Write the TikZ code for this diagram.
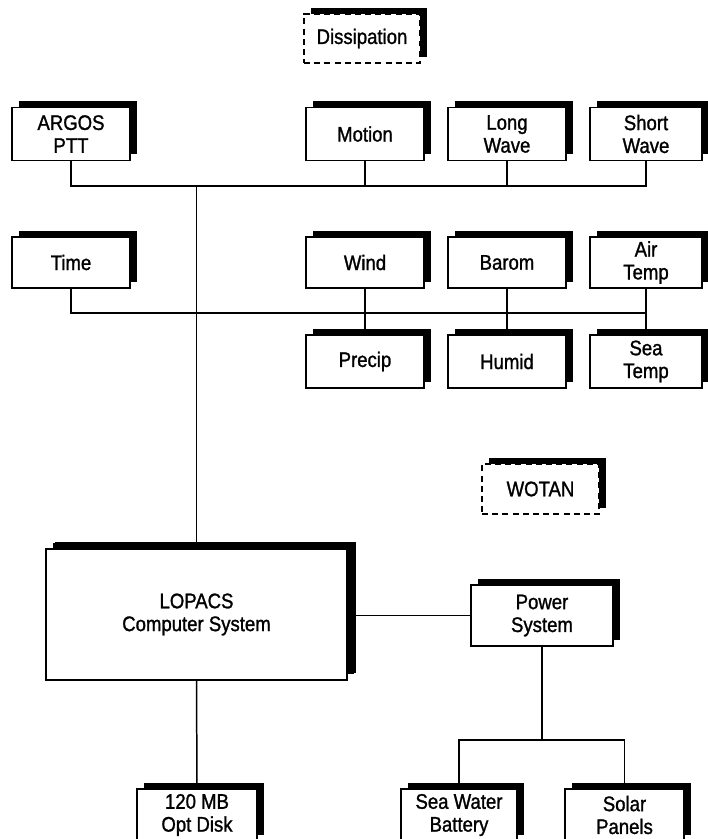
\documentclass[tikz,border=0pt]{standalone}
\usepackage{fontspec}
\setmainfont{Liberation Sans}[FakeStretch=0.88, FakeBold=1.2]
\usetikzlibrary{shadows}

\tikzset{
  unit/.style={draw, line width=1pt, fill=white, align=center, inner sep=0pt,
    font=\fontsize{12}{13}\selectfont,
    minimum width=2.36cm, minimum height=1.06cm,
    general shadow={shadow xshift=0.13cm, shadow yshift=0.12cm, fill=black}},
  bigunit/.style={unit, general shadow={shadow xshift=0.17cm, shadow yshift=0.14cm, fill=black}},
  virtual/.style={unit, dash pattern=on 3.4pt off 2.4pt},
  link/.style={line width=0.85pt}
}

\begin{document}
\begin{tikzpicture}
    \useasboundingbox (0,0) rectangle (14.14,-16.78);

    % dissipation and sensors
    \node[virtual, minimum width=2.32cm, minimum height=0.98cm] (diss) at (7.24,-0.77) {Dissipation};

    \node[unit] (argos)  at (1.42,-2.68)  {ARGOS\\PTT};
    \node[unit] (motion) at (7.30,-2.68)  {Motion};
    \node[unit] (longw)  at (10.14,-2.68) {Long\\Wave};
    \node[unit, minimum width=2.24cm] (shortw) at (12.92,-2.68) {Short\\Wave};

    \node[unit, minimum height=1.02cm] (time)  at (1.42,-5.25)  {Time};
    \node[unit, minimum height=1.02cm] (wind)  at (7.30,-5.25)  {Wind};
    \node[unit, minimum height=1.02cm] (barom) at (10.14,-5.25) {Barom};
    \node[unit, minimum height=1.02cm, minimum width=2.24cm] (airt) at (12.92,-5.25) {Air\\Temp};

    \node[unit] (precip) at (7.30,-7.23)  {Precip};
    \node[unit] (humid)  at (10.14,-7.23) {Humid};
    \node[unit, minimum width=2.24cm] (seat) at (12.92,-7.23) {Sea\\Temp};

    % wotan
    \node[virtual, minimum width=2.34cm, minimum height=1.0cm] (wotan) at (10.81,-9.78) {WOTAN};

    % computer and power
    \node[bigunit, minimum width=6.02cm, minimum height=2.62cm] (lopacs) at (3.93,-12.29) {LOPACS\\Computer System};
    \node[unit, minimum width=2.84cm, minimum height=1.22cm] (power) at (10.84,-12.31) {Power\\System};

    \node[unit, minimum width=2.40cm, minimum height=1.04cm] (optdisk) at (3.94,-16.30) {120 MB\\Opt Disk};
    \node[unit, minimum width=2.32cm, minimum height=1.04cm] (battery) at (9.18,-16.30) {Sea Water\\Battery};
    \node[unit, minimum width=2.38cm, minimum height=1.04cm] (solar) at (12.49,-16.30) {Solar\\Panels};

    % buses
    \coordinate (bus1) at (0,-3.72);
    \coordinate (bus2) at (0,-6.26);
    \coordinate (bus3) at (0,-14.80);

    \draw[link] (argos.south) |- (bus1 -| shortw.south) -- (shortw.south);
    \draw[link] (motion.south) -- (motion.south |- bus1);
    \draw[link] (longw.south) -- (longw.south |- bus1);
    \draw[link] (lopacs.north) -- (lopacs.north |- bus1);

    \draw[link] (time.south) |- (bus2 -| airt.south);
    \foreach \a/\b in {wind/precip, barom/humid, airt/seat}
        \draw[link] (\a.south) -- (\b.north);

    \draw[link] (power.west) -- (power.west -| lopacs.east);
    \draw[link] (lopacs.south) -- (optdisk.north);
    \draw[link] (power.south) -- (power.south |- bus3);
    \draw[link] (battery.north) |- (bus3 -| solar.north) -- (solar.north);
\end{tikzpicture}
\end{document}
